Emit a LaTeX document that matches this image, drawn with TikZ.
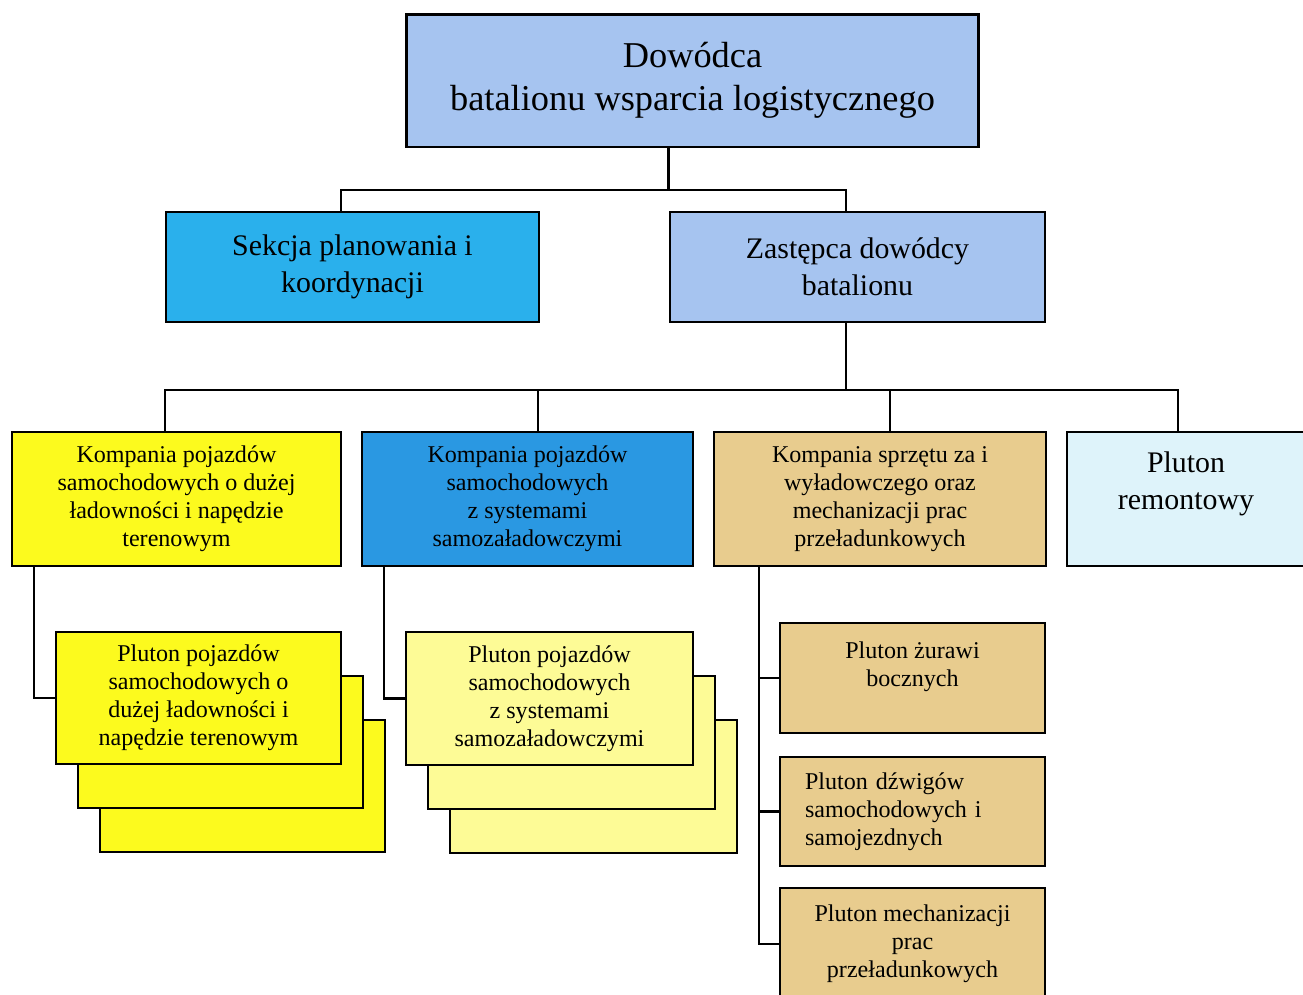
\documentclass[tikz,border=0pt]{standalone}
\usepackage{fontspec}
\setmainfont{Liberation Serif}
\usetikzlibrary{positioning,calc}

\definecolor{cmdblue}{RGB}{166,196,240}
\definecolor{sekblue}{RGB}{42,176,236}
\definecolor{kpblue}{RGB}{42,152,226}
\definecolor{kpyellow}{RGB}{252,250,30}
\definecolor{plyellow}{RGB}{253,251,150}
\definecolor{tan}{RGB}{232,204,142}
\definecolor{remcyan}{RGB}{222,243,250}

\tikzset{
  box/.style={draw, line width=1.1pt, align=center, inner sep=0pt},
  bigfont/.style={font=\fontsize{20.7}{24.4}\selectfont},
  midfont/.style={font=\fontsize{17}{21}\selectfont},
  smallfont/.style={font=\fontsize{13.7}{16}\selectfont},
  link/.style={line width=1.3pt},
}

\begin{document}
\begin{tikzpicture}[x=0.02cm, y=-0.02cm]
	\useasboundingbox (0,0) rectangle (1303,995);

	% Top level:
	\node[box, bigfont, line width=1.7pt, fill=cmdblue, minimum width=11.46cm, minimum height=2.66cm] (cmd) at (692.5, 80.5) {Dowódca\\batalionu wsparcia logistycznego};

	\node[box, midfont, fill=sekblue, minimum width=7.46cm, minimum height=2.2cm] (sek) at (352.5, 267) {Sekcja planowania i\\koordynacji};
	\node[box, midfont, fill=cmdblue, minimum width=7.5cm, minimum height=2.2cm] (zas) at (857.5, 267) {Zastępca dowódcy\\batalionu};

	% Companies:
	\node[box, smallfont, fill=kpyellow, minimum width=6.58cm, minimum height=2.68cm] (kp1) at (176.5, 499) {Kompania pojazdów\\samochodowych o dużej\\ładowności i napędzie\\terenowym};
	\node[box, smallfont, fill=kpblue, minimum width=6.62cm, minimum height=2.68cm] (kp2) at (527.5, 499) {Kompania pojazdów\\samochodowych\\z systemami\\samozaładowczymi};
	\node[box, smallfont, fill=tan, minimum width=6.64cm, minimum height=2.68cm] (kp3) at (880, 499) {Kompania sprzętu za i\\wyładowczego oraz\\mechanizacji prac\\przeładunkowych};
	\node[box, midfont, fill=remcyan, minimum width=4.76cm, minimum height=2.68cm] (rem) at (1186, 499) {Pluton\\remontowy\\\mbox{}};

	% Platoon stacks:
	\foreach \k in {2,1} {
		\node[box, fill=kpyellow, minimum width=5.7cm, minimum height=2.64cm] (pl1-\k) at ($(198.5, 698)+(\k*22, \k*44)$) {};
		\node[box, fill=plyellow, minimum width=5.74cm, minimum height=2.66cm] (pl2-\k) at ($(549.5, 698.5)+(\k*22, \k*44)$) {};
	}
	\node[box, smallfont, fill=kpyellow, minimum width=5.7cm, minimum height=2.64cm] (pl1) at (198.5, 698) {Pluton pojazdów\\samochodowych o\\dużej ładowności i\\napędzie terenowym};
	\node[box, smallfont, fill=plyellow, minimum width=5.74cm, minimum height=2.66cm] (pl2) at (549.5, 698.5) {Pluton pojazdów\\samochodowych\\z systemami\\samozaładowczymi};

	\node[box, smallfont, fill=tan, minimum width=5.3cm, minimum height=2.2cm] (zur) at (912.5, 678) {Pluton żurawi\\bocznych\\\mbox{}};
	\node[box, smallfont, fill=tan, minimum width=5.3cm, minimum height=2.18cm, align=left, text width=4.3cm] (dzw) at (912.5, 811.5) {Pluton dźwigów\\samochodowych i\\samojezdnych};
	\node[box, smallfont, fill=tan, minimum width=5.3cm, minimum height=2.24cm] (mech) at (912.5, 944) {Pluton mechanizacji\\prac\\przeładunkowych};

	% Lines:
	\coordinate (bus1) at (0, 190);
	\coordinate (bus2) at (0, 390);
	\coordinate (cmdout) at ($(cmd.south west)+(264,0)$);
	\coordinate (zasout) at ($(zas.south west)+(177,0)$);
	\draw[link] (cmdout) -- (cmdout |- bus1);
	\draw[link] ($(sek.north west)+(176,0)$) |- (bus1 -| zasout) -- (zasout |- zas.north);
	\draw[link] (zasout) -- (zasout |- bus2);
	\draw[link] ($(kp1.north west)+(154,0)$) |- (bus2 -| 1178,0) -- (rem.north -| 1178,0);
	\draw[link] ($(kp2.north west)+(177,0)$) -- ++(0,-42);
	\draw[link] ($(kp3.north west)+(177,0)$) -- ++(0,-42);

	\draw[link] ($(kp1.south west)+(23,0)$) |- (pl1.west);
	\draw[link] ($(kp2.south west)+(23,0)$) |- (pl2.west);

	\coordinate (kv) at ($(kp3.south west)+(46,0)$);
	\draw[link] (kv) |- (mech.west);
	\draw[link] (kv |- zur.west) -- (zur.west);
	\draw[link] (kv |- dzw.west) -- (dzw.west);

\end{tikzpicture}
\end{document}
